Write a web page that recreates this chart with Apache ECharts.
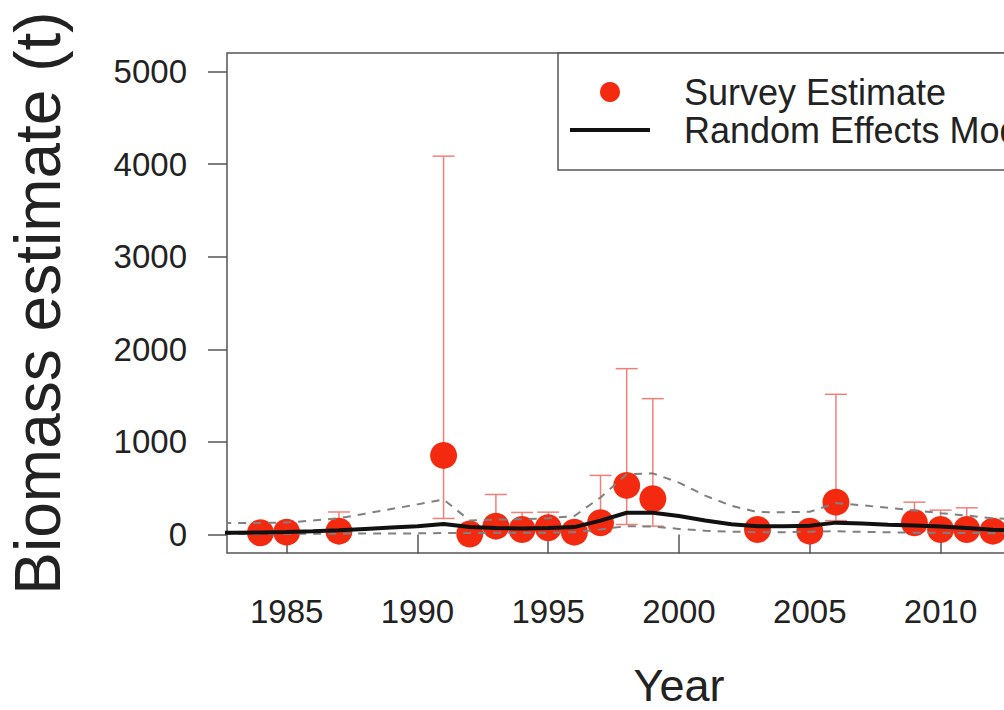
<!DOCTYPE html>
<html>
<head>
<meta charset="utf-8">
<script src="https://cdn.jsdelivr.net/npm/echarts@6/dist/echarts.min.js"></script>
<style>
html,body{margin:0;padding:0;overflow:hidden;background:#fff;}
#chart{width:1180px;height:710px;}
</style>
</head>
<body>
<div id="chart"></div>
<script>
// Survey estimates (t) with error bar bounds
const surveyYears = [1984, 1985, 1987, 1991, 1992, 1993, 1994, 1995, 1996, 1997, 1998, 1999, 2003, 2005, 2006, 2009, 2010, 2011, 2012];
const surveyValues = [18, 25, 36, 854, 5, 90, 54, 72, 25, 126, 530, 386, 54, 36, 349, 126, 54, 54, 36];
const surveyLower = [5, 8, 10, 173, 1, 20, 12, 18, 6, 30, 108, 90, 15, 10, 150, 40, 15, 15, 10];
const surveyUpper = [70, 80, 243, 4086, 40, 432, 238, 241, 100, 638, 1791, 1467, 130, 110, 1514, 349, 263, 288, 120];

// Random effects model estimate and interval
const modelYears = [1982, 1983, 1984, 1985, 1986, 1987, 1988, 1989, 1990, 1991, 1992, 1993, 1994, 1995, 1996, 1997, 1998, 1999, 2000, 2001, 2002, 2003, 2004, 2005, 2006, 2007, 2008, 2009, 2010, 2011, 2012, 2013];
const modelValues = [18, 20, 22, 28, 35, 45, 60, 75, 88, 112, 80, 70, 65, 70, 80, 150, 235, 235, 200, 150, 110, 88, 88, 95, 128, 118, 105, 98, 85, 70, 52, 46];
const modelLower = [4, 5, 6, 7, 8, 9, 10, 11, 12, 15, 16, 18, 18, 20, 25, 55, 90, 85, 60, 40, 30, 25, 25, 30, 35, 28, 24, 20, 18, 16, 14, 12];
const modelUpper = [125, 125, 125, 130, 150, 175, 225, 275, 325, 378, 150, 160, 165, 175, 200, 400, 650, 660, 560, 420, 310, 242, 240, 245, 340, 315, 288, 260, 230, 205, 175, 165];

// Axis ticks
const xTicks = [1985, 1990, 1995, 2000, 2005, 2010];
const yTicks = [0, 1000, 2000, 3000, 4000, 5000];

const chart = echarts.init(document.getElementById('chart'), null, {renderer: 'svg'});

const surveyPts = surveyYears.map((y, i) => [y, surveyValues[i]]);
const errBars = surveyYears.map((y, i) => [y, surveyLower[i], surveyUpper[i]]);
const modelPts = modelYears.map((y, i) => [y, modelValues[i]]);
const lowerPts = modelYears.map((y, i) => [y, modelLower[i]]);
const upperPts = modelYears.map((y, i) => [y, modelUpper[i]]);

const txt = '#222';
const boxCol = '#555';
const fontFam = 'Liberation Sans, Arial, Helvetica, sans-serif';

chart.setOption({
  animation: false,
  backgroundColor: '#fff',
  grid: {left: 227, top: 53, width: 904, height: 500, show: true, borderColor: boxCol, borderWidth: 1.5, backgroundColor: 'transparent', containLabel: false, outerBoundsMode: 'none'},
  xAxis: {
    type: 'value', min: 1982.72, max: 2017.28,
    name: 'Year', nameLocation: 'middle', nameGap: 110,
    nameTextStyle: {fontSize: 45, color: txt, fontFamily: fontFam},
    axisLine: {show: false},
    splitLine: {show: false},
    axisTick: {show: true, inside: false, length: 19, customValues: xTicks, lineStyle: {color: boxCol, width: 1.5}},
    axisLabel: {show: true, customValues: xTicks, margin: 42, fontSize: 33, color: txt, fontFamily: fontFam, formatter: v => String(v)}
  },
  yAxis: {
    type: 'value', min: -200, max: 5200,
    name: 'Biomass estimate (t)', nameLocation: 'middle', nameGap: 157, nameRotate: 90,
    nameTextStyle: {fontSize: 64, color: txt, fontFamily: fontFam},
    axisLine: {show: false},
    splitLine: {show: false},
    axisTick: {show: true, inside: false, length: 19, customValues: yTicks, lineStyle: {color: boxCol, width: 1.5}},
    axisLabel: {show: true, customValues: yTicks, margin: 40, fontSize: 33, color: txt, fontFamily: fontFam, formatter: v => String(v)}
  },
  legend: {
    orient: 'vertical', left: 558, top: 53,
    backgroundColor: '#fff', borderColor: boxCol, borderWidth: 1.5, borderRadius: 0,
    padding: [20, 120, 21, 10], itemGap: 0, itemWidth: 80, itemHeight: 20,
    textStyle: {fontSize: 36, color: txt, fontFamily: fontFam, lineHeight: 38, padding: [0, 0, 0, 29]},
    data: [
      {name: 'Survey Estimate', icon: 'circle', itemStyle: {color: '#f42a10'}},
      {name: 'Random Effects Model', itemStyle: {color: 'rgba(0,0,0,0)', opacity: 0, borderWidth: 0}, lineStyle: {color: '#111', width: 4}}
    ]
  },
  series: [
    {
      type: 'custom', name: 'err', z: 1, silent: true,
      encode: {x: 0, y: [1, 2]},
      data: errBars,
      renderItem: function (params, api) {
        const x = api.value(0), lo = api.value(1), hi = api.value(2);
        const pLo = api.coord([x, lo]), pHi = api.coord([x, hi]);
        const w = 11;
        const st = {stroke: '#f2807a', lineWidth: 1.5, fill: null};
        return {type: 'group', children: [
          {type: 'line', shape: {x1: pLo[0], y1: pLo[1], x2: pHi[0], y2: pHi[1]}, style: st},
          {type: 'line', shape: {x1: pHi[0] - w, y1: pHi[1], x2: pHi[0] + w, y2: pHi[1]}, style: st},
          {type: 'line', shape: {x1: pLo[0] - w, y1: pLo[1], x2: pLo[0] + w, y2: pLo[1]}, style: st}
        ]};
      }
    },
    {
      type: 'scatter', name: 'Survey Estimate', z: 2,
      data: surveyPts, symbol: 'circle', symbolSize: 27,
      itemStyle: {color: '#f42a10', opacity: 1}
    },
    {
      type: 'line', name: 'upper', z: 3, data: upperPts, symbol: 'none', clip: true,
      lineStyle: {color: '#808080', width: 2, type: [8, 7]}
    },
    {
      type: 'line', name: 'lower', z: 3, data: lowerPts, symbol: 'none', clip: true,
      lineStyle: {color: '#808080', width: 2, type: [8, 7]}
    },
    {
      type: 'line', name: 'Random Effects Model', z: 4, data: modelPts, symbol: 'none', clip: true,
      itemStyle: {color: '#111'},
      lineStyle: {color: '#111', width: 4}
    }
  ]
});
</script>
</body>
</html>
